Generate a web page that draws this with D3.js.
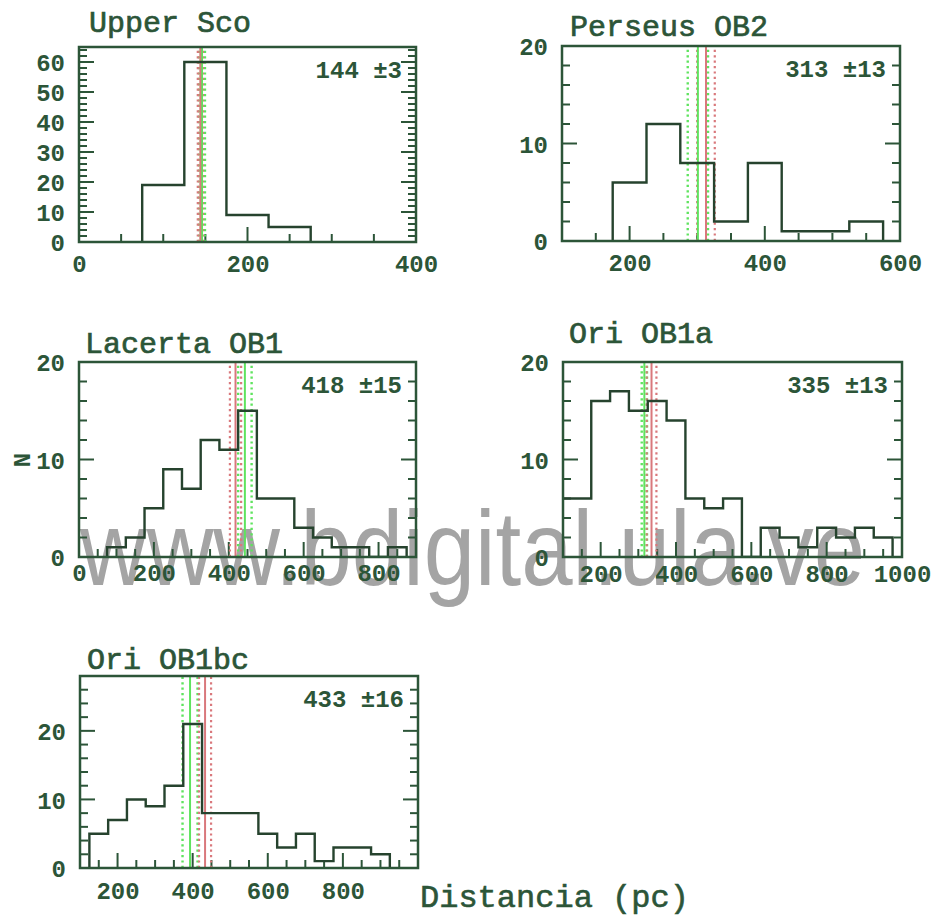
<!DOCTYPE html>
<html>
<head>
<meta charset="utf-8">
<script src="https://cdn.jsdelivr.net/npm/d3@7/dist/d3.min.js"></script>
<style>
  html, body { margin: 0; padding: 0; background: #ffffff; }
  svg { display: block; }
</style>
</head>
<body>
<svg id="chart" width="933" height="917"></svg>
<script>
// Distance histograms of OB associations (bin width 50 pc)
const groupNames = ["Upper Sco", "Perseus OB2", "Lacerta OB1", "Ori OB1a", "Ori OB1bc"];
const binWidth = 50;
const binStarts = [75, 175, 75, 75, 125];
const upperScoCounts = [19, 60, 9, 5];
const perseusCounts = [6, 12, 8, 2, 8, 1, 1, 2];
const lacertaCounts = [1, 2, 5, 9, 7, 12, 11, 15, 6, 6, 3, 2, 1, 1, 0, 1];
const oriOB1aCounts = [6, 6, 16, 17, 15, 16, 14, 6, 5, 6, 0, 3, 2, 1, 3, 2, 3, 2];
const oriOB1bcCounts = [5, 7, 10, 9, 12, 21, 8, 8, 8, 5, 3, 5, 1, 3, 3, 2];
const allCounts = [upperScoCounts, perseusCounts, lacertaCounts, oriOB1aCounts, oriOB1bcCounts];

// Adopted distance (red) and alternative estimate (green), with errors, in pc
const redDistance = [144, 313, 418, 335, 433];
const redError = [3, 13, 15, 13, 16];
const greenDistance = [146, 301, 443, 316, 393];
const greenError = [3.5, 15, 18, 7, 20];

// Axis ranges and labelled ticks
const xDomains = [[0, 400], [100, 600], [0, 900], [100, 1000], [100, 1000]];
const yDomains = [[0, 65], [0, 20], [0, 20], [0, 20], [0, 28]];
const xTickLabels = [[0, 200, 400], [200, 400, 600], [0, 200, 400, 600, 800], [200, 400, 600, 800, 1000], [200, 400, 600, 800]];
const yTickLabels = [[0, 10, 20, 30, 40, 50, 60], [0, 10, 20], [0, 10, 20], [0, 10, 20], [0, 10, 20]];
const xAxisTitle = "Distancia (pc)";
const yAxisTitle = "N";
const siteMark = "www.bdigital.ula.ve";

// Page layout of each frame
const frames = [
  { x0: 79,  y0: 47,  x1: 416, y1: 242, titleDx: 10, titleDy: -15, labelDy: 31 },
  { x0: 562, y0: 46,  x1: 900, y1: 241, titleDx: 8,  titleDy: -10, labelDy: 31 },
  { x0: 79,  y0: 362, x1: 416, y1: 557, titleDx: 6,  titleDy: -9,  labelDy: 25 },
  { x0: 563, y0: 362, x1: 902, y1: 557, titleDx: 6,  titleDy: -19, labelDy: 26 },
  { x0: 80,  y0: 676, x1: 418, y1: 868, titleDx: 7,  titleDy: -7,  labelDy: 32 }
];

const INK = "#2c5538";
const HIST = "#26432e";
const RED = "#d9787c";
const GREEN = "#5fe35f";
const FONT = "'Liberation Mono', 'DejaVu Sans Mono', monospace";

const svg = d3.select("#chart");

// repository mark across the middle row, underneath the plots
svg.append("text").attr("x", 80).attr("y", 585)
  .attr("font-family", "'Liberation Sans', Arial, sans-serif").attr("font-size", 106)
  .attr("textLength", 785).attr("lengthAdjust", "spacingAndGlyphs")
  .attr("fill", "#a4a4a4")
  .text(siteMark);

frames.forEach((f, i) => {
  const x = d3.scaleLinear().domain(xDomains[i]).range([f.x0, f.x1]);
  const y = d3.scaleLinear().domain(yDomains[i]).range([f.y1, f.y0]);
  const g = svg.append("g");

  const clipId = "clip" + i;
  g.append("clipPath").attr("id", clipId)
    .append("rect").attr("x", f.x0).attr("y", f.y0 - 1)
    .attr("width", f.x1 - f.x0).attr("height", f.y1 - f.y0 + 1);

  // minor and major ticks, drawn inward from bottom, left and right
  const xMinor = d3.range(Math.ceil(xDomains[i][0] / 50) * 50, xDomains[i][1] + 1, 50)
    .filter(v => v > xDomains[i][0] && v < xDomains[i][1]);
  const yMinor = d3.range(2, yDomains[i][1], 2);
  const tickLen = (isMajor) => isMajor ? 15 : 8;

  const ga = g.append("g");
  xMinor.forEach(v => {
    const major = v % 200 === 0;
    ga.append("line").attr("x1", x(v)).attr("x2", x(v))
      .attr("y1", f.y1).attr("y2", f.y1 - tickLen(major))
      .attr("stroke", INK).attr("stroke-width", 2);
  });
  yMinor.forEach(v => {
    const major = v % 10 === 0;
    const L = tickLen(major);
    ga.append("line").attr("x1", f.x0).attr("x2", f.x0 + L)
      .attr("y1", y(v)).attr("y2", y(v)).attr("stroke", INK).attr("stroke-width", 2);
    ga.append("line").attr("x1", f.x1).attr("x2", f.x1 - L)
      .attr("y1", y(v)).attr("y2", y(v)).attr("stroke", INK).attr("stroke-width", 2);
  });

  // tick labels via d3 axes (text only)
  const xa = g.append("g").attr("transform", `translate(0,${f.y1})`)
    .call(d3.axisBottom(x).tickValues(xTickLabels[i]).tickFormat(d3.format("d"))
      .tickSize(0).tickPadding(f.labelDy - 18));
  xa.select(".domain").remove();
  xa.selectAll("text").attr("font-family", FONT).attr("font-weight", "bold")
    .attr("font-size", 24).attr("fill", INK);

  const ya = g.append("g").attr("transform", `translate(${f.x0},0)`)
    .call(d3.axisLeft(y).tickValues(yTickLabels[i]).tickFormat(d3.format("d"))
      .tickSize(0).tickPadding(14));
  ya.select(".domain").remove();
  ya.selectAll("text").attr("font-family", FONT).attr("font-weight", "bold")
    .attr("font-size", 24).attr("fill", INK).attr("dy", "0.36em");

  // vertical distance markers
  const markers = g.append("g").attr("clip-path", `url(#${clipId})`);
  const vline = (val, color, dotted, w) => {
    markers.append("line").attr("x1", x(val)).attr("x2", x(val))
      .attr("y1", f.y1).attr("y2", f.y0)
      .attr("stroke", color).attr("stroke-width", w)
      .attr("stroke-dasharray", dotted ? "2.2,3.2" : null);
  };
  vline(greenDistance[i] - greenError[i], GREEN, true, 2.4);
  vline(greenDistance[i] + greenError[i], GREEN, true, 2.4);
  vline(redDistance[i] - redError[i], RED, true, 2.2);
  vline(redDistance[i] + redError[i], RED, true, 2.2);
  vline(greenDistance[i], GREEN, false, 2);
  vline(redDistance[i], RED, false, 2);

  // histogram outline
  const counts = allCounts[i];
  const start = binStarts[i];
  const pts = [[start, 0]];
  counts.forEach((c, k) => {
    pts.push([start + k * binWidth, c]);
    pts.push([start + (k + 1) * binWidth, c]);
  });
  pts.push([start + counts.length * binWidth, 0]);
  const line = d3.line().x(d => x(d[0])).y(d => y(d[1]));
  g.append("path").attr("clip-path", `url(#${clipId})`)
    .attr("d", line(pts)).attr("fill", "none")
    .attr("stroke", HIST).attr("stroke-width", 2.4).attr("stroke-linejoin", "miter");

  // frame
  g.append("rect").attr("x", f.x0).attr("y", f.y0)
    .attr("width", f.x1 - f.x0).attr("height", f.y1 - f.y0)
    .attr("fill", "none").attr("stroke", INK).attr("stroke-width", 2.5);

  // group name
  g.append("text").attr("x", f.x0 + f.titleDx).attr("y", f.y0 + f.titleDy)
    .attr("font-family", FONT).attr("font-size", 30).attr("fill", INK)
    .attr("stroke", INK).attr("stroke-width", 0.7)
    .text(groupNames[i]);

  // adopted distance
  g.append("text").attr("x", f.x1 - 14).attr("y", f.y0 + 31)
    .attr("text-anchor", "end").attr("font-family", FONT).attr("font-weight", "bold")
    .attr("font-size", 24).attr("fill", INK)
    .text(`${redDistance[i]} \u00b1${redError[i]}`);
});

// shared axis titles
svg.append("text").attr("transform", "translate(30,460) rotate(-90)")
  .attr("text-anchor", "middle").attr("font-family", FONT).attr("font-weight", "bold")
  .attr("font-size", 24).attr("fill", INK).text(yAxisTitle);

svg.append("text").attr("x", 420).attr("y", 907)
  .attr("font-family", FONT).attr("font-size", 32).attr("fill", INK)
  .attr("stroke", INK).attr("stroke-width", 0.6)
  .text(xAxisTitle);
</script>
</body>
</html>
